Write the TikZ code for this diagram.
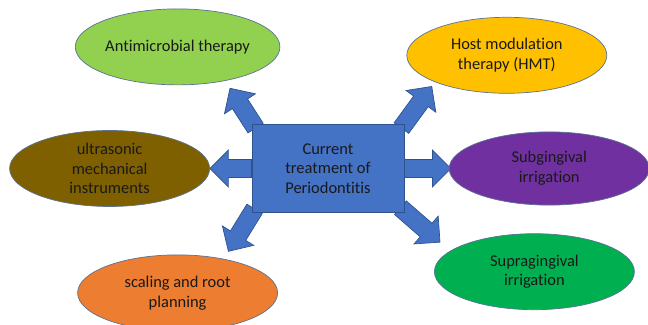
\documentclass[tikz,border=0pt]{standalone}
\usepackage{fontspec}
\setmainfont[Ligatures=NoCommon]{Carlito}
\usetikzlibrary{shapes.geometric,calc,backgrounds}

\definecolor{boxblue}{HTML}{4472C4}
\definecolor{boxline}{HTML}{2F528F}
\definecolor{ellline}{HTML}{5A7394}
\definecolor{antigreen}{HTML}{92D050}
\definecolor{hostyellow}{HTML}{FFC000}
\definecolor{ultrabrown}{HTML}{7F6000}
\definecolor{subpurple}{HTML}{7030A0}
\definecolor{scalorange}{HTML}{ED7D31}
\definecolor{supragreen}{HTML}{00B050}

\begin{document}
\begin{tikzpicture}[node distance=1.5cm,
    every node/.style={font=\fontsize{11.7pt}{14pt}\selectfont, text=black!90}, align=center]
    \tikzset{%
  % Specifications for style of nodes:
      centre/.style = {rectangle, draw=boxline, fill=boxblue, line width=0.6pt,
                       minimum width=3.8cm, minimum height=2.2cm},
      treat/.style = {ellipse, draw=ellline, line width=0.5pt, inner sep=0pt,
                      minimum width=5cm, minimum height=1.9cm},
  % block arrow between two points
      blockarrow/.style = {draw=boxline, fill=boxblue, line width=0.5pt,
        to path={let \p1=(\tikztostart), \p2=(\tikztotarget),
          \n1={atan2(\y2-\y1,\x2-\x1)}, \n2={veclen(\x2-\x1,\y2-\y1)} in
          {[shift={(\p1)}, rotate=\n1]
            (0pt,-6.4pt) -- ({\n2*1pt-13.1pt},-6.4pt) -- ({\n2*1pt-13.1pt},-13.1pt)
            -- ({\n2*1pt},0pt) -- ({\n2*1pt-13.1pt},13.1pt) -- ({\n2*1pt-13.1pt},6.4pt)
            -- (0pt,6.4pt) -- cycle}}},
    }
  \useasboundingbox (-8.2,-3.9125) rectangle (8.0,4.2125);

  % Specification of nodes (position, etc.)
  \node (rect) [centre] {Current\\treatment of\\Periodontitis};

  \node (anti)  [treat, fill=antigreen, left of=rect, xshift=-2.26cm, yshift=3.04cm] {Antimicrobial therapy};
  \node (host)  [treat, fill=hostyellow, right of=rect, xshift=2.97cm, yshift=2.83cm] {Host modulation\\therapy (HMT)};
  \node (ultra) [treat, fill=ultrabrown, left of=rect, xshift=-3.96cm] {ultrasonic\\mechanical\\instruments};
  \node (sub)   [treat, fill=subpurple, right of=rect, xshift=4.03cm, minimum height=1.83cm] {Subgingival\\irrigation};
  \node (scal)  [treat, fill=scalorange, left of=rect, xshift=-2.26cm, yshift=-3.11cm] {scaling and root\\planning};
  \node (supra) [treat, fill=supragreen, right of=rect, xshift=3.66cm, yshift=-2.58cm] {Supragingival\\irrigation};

  % block arrows out of the centre box
  \begin{pgfonlayer}{background}
    \draw[blockarrow] (rect.west) to (ultra.east);
    \draw[blockarrow] (rect.east) to ([xshift=0.05cm]sub.west);
    \draw[blockarrow] ([xshift=0.1cm,yshift=-0.1cm]rect.north west) to ([xshift=1.31cm,yshift=-0.075cm]anti.south);
    \draw[blockarrow] ([xshift=-0.075cm,yshift=-0.1cm]rect.north east) to ([xshift=-1.875cm,yshift=0.18cm]host.south);
    \draw[blockarrow] ([xshift=0.075cm,yshift=0.1cm]rect.south west) to ([xshift=1.27cm,yshift=0.08cm]scal.north);
    \draw[blockarrow] ([xshift=-0.1cm,yshift=0.13cm]rect.south east) to ([xshift=-2.36cm,yshift=-0.22cm]supra.north);
  \end{pgfonlayer}

\end{tikzpicture}
\end{document}
